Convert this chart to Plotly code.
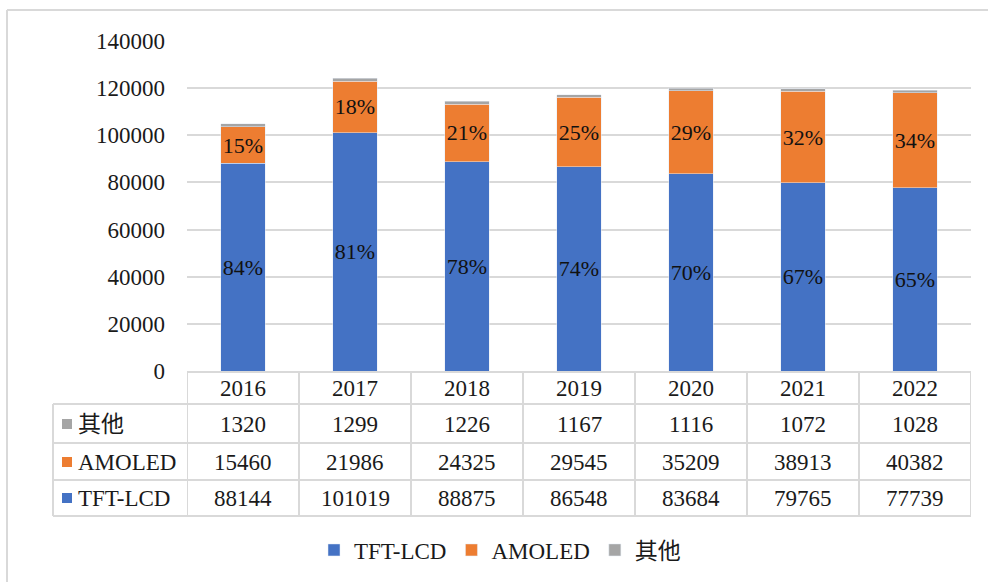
import plotly.graph_objects as go

years = ["2016", "2017", "2018", "2019", "2020", "2021", "2022"]
tft_lcd = [88144, 101019, 88875, 86548, 83684, 79765, 77739]
amoled = [15460, 21986, 24325, 29545, 35209, 38913, 40382]
other = [1320, 1299, 1226, 1167, 1116, 1072, 1028]
series_names = ["TFT-LCD", "AMOLED", "其他"]
colors = ["#4472C4", "#ED7D31", "#A5A5A5"]
y_ticks = [0, 20000, 40000, 60000, 80000, 100000, 120000, 140000]

W, H = 988, 582
L, R, T, B = 187, 17, 41, 211
PW, PH = W - L - R, H - T - B
FONT = "Liberation Serif, 'Times New Roman', 'Noto Sans CJK SC', serif"
FS = 23
TXT = "#1a1a1a"
GRID = "#d9d9d9"


def xp(px):
    return (px - L) / PW


def yp(py):
    return (H - B - py) / PH


totals = [a + b + c for a, b, c in zip(tft_lcd, amoled, other)]
tft_pct = [f"{round(v / t * 100)}%" for v, t in zip(tft_lcd, totals)]
amo_pct = [f"{round(v / t * 100)}%" for v, t in zip(amoled, totals)]

fig = go.Figure()
fig.add_bar(x=years, y=tft_lcd, name=series_names[0], marker_color=colors[0],
            text=tft_pct, textposition="inside", insidetextanchor="middle",
            textangle=0, constraintext="none",
            textfont=dict(family=FONT, size=22, color="#111"))
fig.add_bar(x=years, y=amoled, name=series_names[1], marker_color=colors[1],
            text=amo_pct, textposition="inside", insidetextanchor="middle",
            textangle=0, constraintext="none",
            textfont=dict(family=FONT, size=22, color="#111"))
fig.add_bar(x=years, y=other, name=series_names[2], marker_color=colors[2])

shapes = []
line = dict(color=GRID, width=2)
# outer chart border (left and top visible)
shapes.append(dict(type="line", xref="paper", yref="paper", x0=xp(7), x1=xp(7),
                   y0=yp(10), y1=yp(600), line=line))
shapes.append(dict(type="line", xref="paper", yref="paper", x0=xp(7), x1=xp(1000),
                   y0=yp(10), y1=yp(10), line=line))

n = len(years)
row_lines = [372, 404, 443, 480, 516]
for i, ry in enumerate(row_lines):
    if i == 0:
        shapes.append(dict(type="line", xref="x", yref="paper", x0=-0.5, x1=n - 0.5,
                           y0=yp(ry), y1=yp(ry), line=line))
    else:
        shapes.append(dict(type="line", xref="paper", yref="paper", x0=xp(53), x1=1,
                           y0=yp(ry), y1=yp(ry), line=line))
for k in range(n + 1):
    shapes.append(dict(type="line", xref="x", yref="paper", x0=k - 0.5, x1=k - 0.5,
                       y0=yp(372), y1=yp(516), line=line))
shapes.append(dict(type="line", xref="paper", yref="paper", x0=xp(53), x1=xp(53),
                   y0=yp(404), y1=yp(516), line=line))

annotations = []
row_centers = {"year": 389, "其他": 424, "AMOLED": 462, "TFT-LCD": 498}
for i, yr in enumerate(years):
    annotations.append(dict(x=i, xref="x", y=yp(row_centers["year"]), yref="paper",
                            text=yr, showarrow=False, xanchor="center", yanchor="middle",
                            font=dict(family=FONT, size=FS, color=TXT)))
table_rows = [("其他", other, colors[2]), ("AMOLED", amoled, colors[1]),
              ("TFT-LCD", tft_lcd, colors[0])]
for name, vals, col in table_rows:
    cy = row_centers[name]
    shapes.append(dict(type="rect", xref="paper", yref="paper",
                       x0=xp(62), x1=xp(72), y0=yp(cy - 5), y1=yp(cy + 5),
                       fillcolor=col, line=dict(width=0)))
    annotations.append(dict(x=xp(76), xref="paper", y=yp(cy), yref="paper",
                            text=name, showarrow=False, xanchor="left", yanchor="middle",
                            font=dict(family=FONT, size=FS, color=TXT)))
    for i, v in enumerate(vals):
        annotations.append(dict(x=i, xref="x", y=yp(cy), yref="paper",
                                text=str(v), showarrow=False, xanchor="center",
                                yanchor="middle",
                                font=dict(family=FONT, size=FS, color=TXT)))

fig.update_layout(
    width=W, height=H,
    margin=dict(l=L, r=R, t=T, b=B, autoexpand=False),
    barmode="stack", bargap=0.6,
    plot_bgcolor="white", paper_bgcolor="white",
    font=dict(family=FONT, size=FS, color=TXT),
    showlegend=True,
    legend=dict(orientation="h", x=xp(314), xanchor="left", y=yp(550), yanchor="middle",
                font=dict(family=FONT, size=FS, color=TXT), traceorder="normal"),
    shapes=shapes, annotations=annotations,
)
fig.update_xaxes(type="category", showticklabels=False, showgrid=False, zeroline=False,
                 showline=False, range=[-0.5, n - 0.5])
fig.update_yaxes(range=[0, 140000], tickvals=y_ticks, ticktext=[str(v) for v in y_ticks],
                 showgrid=True, gridcolor=GRID, gridwidth=2, zeroline=False, showline=False,
                 ticklabelstandoff=21, tickfont=dict(family=FONT, size=FS, color=TXT))

fig.write_html("out.html", config={"displayModeBar": False},
               post_script="document.body.style.margin='0';")
